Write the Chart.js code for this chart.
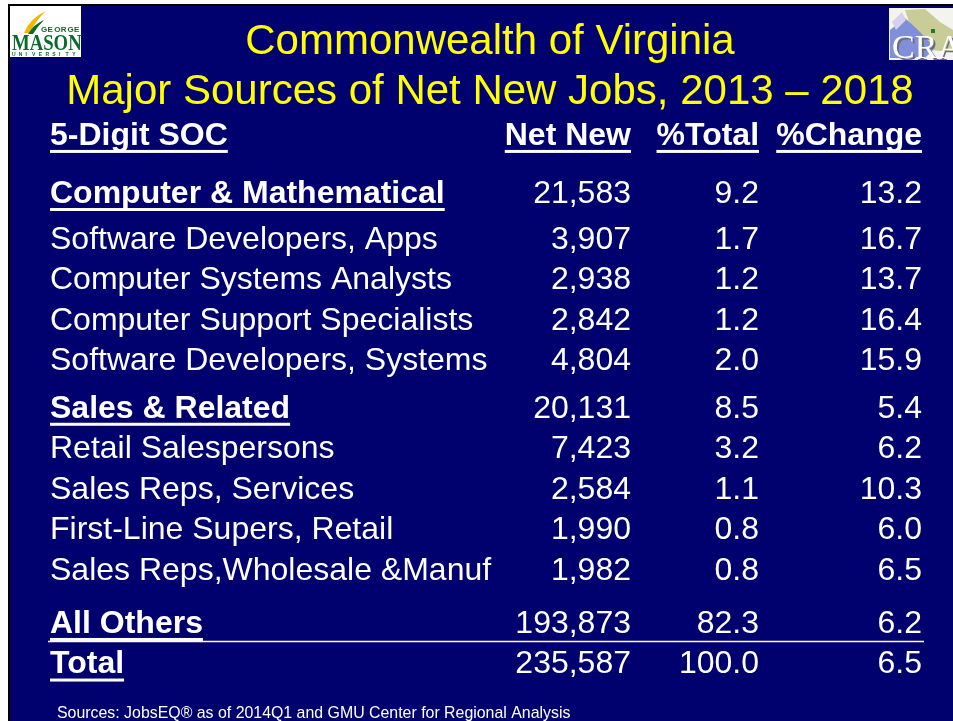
<!DOCTYPE html>
<html>
<head>
<meta charset="utf-8">
<title>Major Sources of Net New Jobs</title>
<script src="https://cdn.jsdelivr.net/npm/chart.js@4.4.1/dist/chart.umd.min.js"></script>
<style>
  html, body { margin: 0; padding: 0; background: #fff; overflow: hidden; }
  #wrap { width: 953px; height: 721px; position: relative; }
</style>
</head>
<body>
<div id="wrap"><canvas id="jobsTable"></canvas></div>
<script>
// table data
const rowLabels = [
    'Computer & Mathematical',
    'Software Developers, Apps',
    'Computer Systems Analysts',
    'Computer Support Specialists',
    'Software Developers, Systems',
    'Sales & Related',
    'Retail Salespersons',
    'Sales Reps, Services',
    'First-Line Supers, Retail',
    'Sales Reps,Wholesale &Manuf',
    'All Others',
    'Total'
];
const rowKind = ['group', 'item', 'item', 'item', 'item', 'group', 'item', 'item', 'item', 'item', 'other', 'total'];
const netNew = [21583, 3907, 2938, 2842, 4804, 20131, 7423, 2584, 1990, 1982, 193873, 235587];
const pctTotal = [9.2, 1.7, 1.2, 1.2, 2.0, 8.5, 3.2, 1.1, 0.8, 0.8, 82.3, 100.0];
const pctChange = [13.2, 16.7, 13.7, 16.4, 15.9, 5.4, 6.2, 10.3, 6.0, 6.5, 6.2, 6.5];
const headers = ['5-Digit SOC', 'Net New', '%Total', '%Change'];
const titleLines = ['Commonwealth of Virginia', 'Major Sources of Net New Jobs, 2013 \u2013 2018'];
const sourceNote = 'Sources: JobsEQ\u00ae as of 2014Q1 and GMU Center for Regional Analysis';

const NAVY = '#00006e';
const FONT = "'Liberation Sans', Arial, sans-serif";

// vertical slot of each row (extra space before groups)
let acc = 0;
const rowPos = rowKind.map((k, i) => {
    if (i > 0) {
        acc += 1;
        if (i === 1) acc += 0.13;
        if (k === 'group') acc += 0.16;
        if (k === 'other') acc += 0.3;
    }
    return acc;
});
const headerPos = -1.43;

const columns = [
    { values: rowLabels, x: 0, align: 'left', fmt: v => v },
    { values: netNew, x: 66.63, align: 'right', fmt: v => v.toLocaleString('en-US') },
    { values: pctTotal, x: 81.31, align: 'right', fmt: v => v.toFixed(1) },
    { values: pctChange, x: 100, align: 'right', fmt: v => v.toFixed(1) }
];

function underline(ctx, text, x, y, align) {
    const w = ctx.measureText(text).width;
    const x0 = align === 'left' ? x : x - w;
    ctx.fillRect(x0, y + 14, w, 3);
}

const slidePlugin = {
    id: 'slide',
    beforeDraw(chart) {
        const ctx = chart.ctx;
        ctx.save();
        ctx.fillStyle = '#fff';
        ctx.fillRect(0, 0, chart.width, chart.height);
        ctx.fillStyle = NAVY;
        ctx.fillRect(9, 5, chart.width - 9, chart.height - 5);
        ctx.fillStyle = '#000';
        ctx.fillRect(8, 4, chart.width - 8, 2);
        ctx.fillRect(8, 4, 2, chart.height - 4);

        // Mason logo
        ctx.fillStyle = '#fff';
        ctx.fillRect(10, 6, 71, 51);
        ctx.fillStyle = '#f2b705';
        ctx.beginPath();
        ctx.moveTo(24, 33);
        ctx.quadraticCurveTo(30, 18, 46, 11);
        ctx.quadraticCurveTo(36, 20, 30, 33);
        ctx.closePath();
        ctx.fill();
        ctx.fillStyle = '#0a6a2e';
        ctx.beginPath();
        ctx.moveTo(28, 34);
        ctx.quadraticCurveTo(34, 24, 44, 20);
        ctx.quadraticCurveTo(37, 27, 33, 34);
        ctx.closePath();
        ctx.fill();
        ctx.font = "bold 8px " + FONT;
        ctx.textBaseline = 'alphabetic';
        'GEORGE'.split('').forEach((ch, i) => ctx.fillText(ch, 41 + i * 6.6, 32));
        ctx.save();
        ctx.translate(12, 50);
        ctx.scale(0.78, 1);
        ctx.font = "bold 24px 'Liberation Serif', serif";
        ctx.fillText('MASON', 0, 0);
        ctx.restore();
        ctx.font = "bold 5px " + FONT;
        'UNIVERSITY'.split('').forEach((ch, i) => ctx.fillText(ch, 12 + i * 6.7, 56));

        // CRA logo
        ctx.fillStyle = '#f4f4ee';
        ctx.fillRect(889, 8, 64, 52);
        ctx.fillStyle = '#c9cc97';
        ctx.beginPath();
        ctx.moveTo(905, 10); ctx.lineTo(925, 9); ctx.lineTo(940, 22); ctx.lineTo(953, 30);
        ctx.lineTo(953, 52); ctx.lineTo(930, 50); ctx.lineTo(912, 30); ctx.closePath();
        ctx.fill();
        ctx.fillStyle = '#7f8fd8';
        ctx.beginPath();
        ctx.moveTo(890, 30); ctx.lineTo(905, 18); ctx.lineTo(918, 30); ctx.lineTo(935, 48);
        ctx.lineTo(925, 58); ctx.lineTo(890, 58); ctx.closePath();
        ctx.fill();
        ctx.fillStyle = '#d6d0ee';
        ctx.beginPath();
        ctx.moveTo(892, 22); ctx.lineTo(902, 12); ctx.lineTo(906, 20); ctx.lineTo(896, 30); ctx.closePath();
        ctx.fill();
        ctx.fillStyle = '#1f7a2a';
        ctx.fillRect(931, 29, 4, 4);
        ctx.font = "34px 'Liberation Serif', serif";
        ctx.fillStyle = '#6a6a80';
        ctx.fillText('CRA', 894, 60);
        ctx.fillStyle = '#fff';
        ctx.fillText('CRA', 892, 58);
        ctx.restore();
    },
    afterDatasetsDraw(chart) {
        const ctx = chart.ctx;
        const xs = chart.scales.x, ys = chart.scales.y;
        ctx.save();
        ctx.fillStyle = '#fff';
        ctx.textBaseline = 'middle';

        // header row
        const hy = ys.getPixelForValue(headerPos);
        ctx.font = 'bold 32px ' + FONT;
        columns.forEach((c, j) => {
            const x = xs.getPixelForValue(c.x);
            ctx.textAlign = c.align;
            ctx.fillText(headers[j], x, hy);
            underline(ctx, headers[j], x, hy, c.align);
        });

        // table cells from the dataset elements
        chart.data.datasets.forEach((ds, j) => {
            const meta = chart.getDatasetMeta(j);
            const c = columns[j];
            ctx.textAlign = c.align;
            meta.data.forEach((pt, i) => {
                const bold = j === 0 && rowKind[i] !== 'item';
                ctx.font = (bold ? 'bold ' : '') + '32px ' + FONT;
                const txt = c.fmt(ds.data[i].v);
                ctx.fillText(txt, pt.x, pt.y);
                if (bold) underline(ctx, txt, pt.x, pt.y, c.align);
            });
        });

        // rule above total
        const iOther = rowKind.indexOf('other');
        const yo = ys.getPixelForValue(rowPos[iOther]);
        const yt = ys.getPixelForValue(rowPos[iOther + 1]);
        const xl = xs.getPixelForValue(0), xr = xs.getPixelForValue(100);
        ctx.fillRect(xl - 2, (yo + yt) / 2 - 3.5, xr - xl + 4, 1.5);

        // source note
        ctx.font = '15.9px ' + FONT;
        ctx.textAlign = 'left';
        ctx.textBaseline = 'alphabetic';
        ctx.fillText(sourceNote, 57, 718);
        ctx.restore();
    }
};

Chart.defaults.font.family = FONT;

new Chart(document.getElementById('jobsTable'), {
    type: 'scatter',
    data: {
        datasets: columns.map((c, j) => ({
            label: headers[j],
            data: c.values.map((v, i) => ({ x: c.x, y: rowPos[i], v: v })),
            pointRadius: 0,
            pointHoverRadius: 0
        }))
    },
    options: {
        responsive: true,
        maintainAspectRatio: false,
        animation: false,
        events: [],
        layout: { padding: { left: 58, right: 31, top: 0, bottom: 21 } },
        scales: {
            x: { type: 'linear', min: 0.917, max: 100, display: false },
            y: { type: 'linear', reverse: true, min: -1.897, max: 12.463, display: false }
        },
        plugins: {
            legend: { display: false },
            tooltip: { enabled: false },
            title: {
                display: true,
                text: titleLines,
                color: '#ffff00',
                font: { size: 42, weight: 'normal', lineHeight: 1.19 },
                padding: { top: 17, bottom: 0 }
            }
        }
    },
    plugins: [slidePlugin]
});
</script>
</body>
</html>
